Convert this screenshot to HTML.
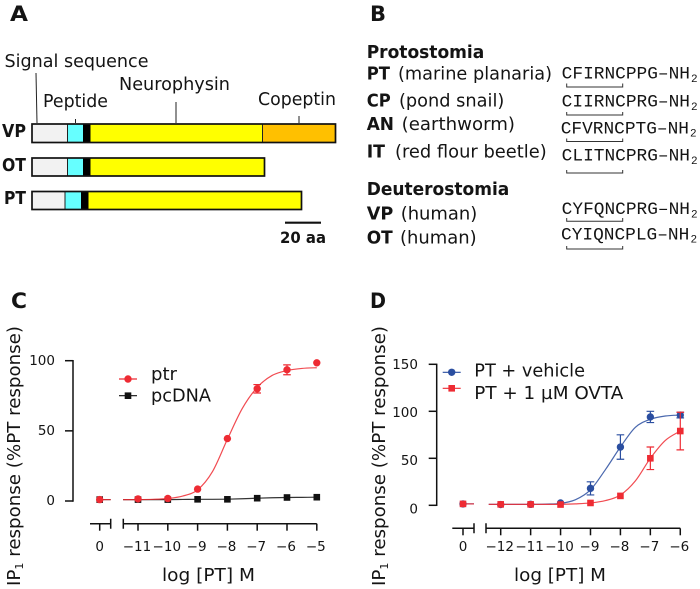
<!DOCTYPE html>
<html lang="en">
<head>
<meta charset="utf-8">
<title>Figure: peptide precursors and receptor response</title>
<style>
html,body{margin:0;padding:0;background:#fff;width:700px;height:589px;overflow:hidden}
svg{display:block}
text{font-family:"DejaVu Sans","Liberation Sans",sans-serif;fill:#141414}
.b{font-weight:bold}
.m{font-family:"Liberation Mono",monospace}
</style>
</head>
<body>
<svg id="fig" xmlns="http://www.w3.org/2000/svg" width="700" height="589" viewBox="0 0 700 589">
<rect width="700" height="589" fill="#fff"/>

<g>
  <text class="b" x="10" y="21" font-size="21" textLength="18" lengthAdjust="spacingAndGlyphs">A</text>
  <text x="4.5" y="67" font-size="18" textLength="144" lengthAdjust="spacingAndGlyphs">Signal sequence</text>
  <text x="119" y="90" font-size="18" textLength="111" lengthAdjust="spacingAndGlyphs">Neurophysin</text>
  <text x="43" y="107" font-size="18" textLength="65" lengthAdjust="spacingAndGlyphs">Peptide</text>
  <text x="258" y="105" font-size="18" textLength="78" lengthAdjust="spacingAndGlyphs">Copeptin</text>
  <g stroke="#222" stroke-width="1" fill="none">
    <path d="M36 73L37 123"/>
    <path d="M75.5 119V123"/>
    <path d="M176 102V123"/>
    <path d="M299 116V123"/>
  </g>
  <text class="b" x="2" y="137" font-size="18" textLength="24" lengthAdjust="spacingAndGlyphs">VP</text>
  <text class="b" x="2" y="171" font-size="18" textLength="24" lengthAdjust="spacingAndGlyphs">OT</text>
  <text class="b" x="4" y="204" font-size="18" textLength="22" lengthAdjust="spacingAndGlyphs">PT</text>

  <g>
    <rect x="32" y="124" width="35.5" height="18.5" fill="#f2f2f2"/>
    <rect x="67.5" y="124" width="15.5" height="18.5" fill="#66ffff"/>
    <rect x="83" y="124" width="7.5" height="18.5" fill="#000"/>
    <rect x="90.5" y="124" width="172" height="18.5" fill="#ffff00"/>
    <rect x="262.5" y="124" width="73" height="18.5" fill="#ffc000"/>
    <path d="M67.5 124V142.5M262.5 124V142.5" stroke="#222" stroke-width="1" fill="none"/>
    <rect x="32" y="124" width="303.5" height="18.5" fill="none" stroke="#111" stroke-width="1.7"/>
  </g>
  <g>
    <rect x="32" y="158" width="35.5" height="18" fill="#f2f2f2"/>
    <rect x="67.5" y="158" width="15.5" height="18" fill="#66ffff"/>
    <rect x="83" y="158" width="7.5" height="18" fill="#000"/>
    <rect x="90.5" y="158" width="174" height="18" fill="#ffff00"/>
    <path d="M67.5 158V176" stroke="#222" stroke-width="1" fill="none"/>
    <rect x="32" y="158" width="232.5" height="18" fill="none" stroke="#111" stroke-width="1.7"/>
  </g>
  <g>
    <rect x="32" y="191.5" width="33" height="18" fill="#f2f2f2"/>
    <rect x="65" y="191.5" width="16" height="18" fill="#66ffff"/>
    <rect x="81" y="191.5" width="7.5" height="18" fill="#000"/>
    <rect x="88.5" y="191.5" width="213" height="18" fill="#ffff00"/>
    <path d="M65 191.5V209.5" stroke="#222" stroke-width="1" fill="none"/>
    <rect x="32" y="191.5" width="269.5" height="18" fill="none" stroke="#111" stroke-width="1.7"/>
  </g>
  <path d="M285 222.7H321" stroke="#111" stroke-width="2.2"/>
  <text class="b" x="280" y="243" font-size="16" textLength="46" lengthAdjust="spacingAndGlyphs">20 aa</text>
</g>

<g>
  <text class="b" x="370" y="21" font-size="21" textLength="16" lengthAdjust="spacingAndGlyphs">B</text>
  <text class="b" x="366.7" y="58" font-size="18" textLength="117.6" lengthAdjust="spacingAndGlyphs">Protostomia</text>
  <text class="b" x="366.7" y="79.5" font-size="18" textLength="23.3" lengthAdjust="spacingAndGlyphs">PT</text>
  <text x="398" y="79.5" font-size="18" textLength="154" lengthAdjust="spacingAndGlyphs">(marine planaria)</text>
  <text class="b" x="366.7" y="106.7" font-size="18" textLength="24" lengthAdjust="spacingAndGlyphs">CP</text>
  <text x="399" y="106.7" font-size="18" textLength="105.3" lengthAdjust="spacingAndGlyphs">(pond snail)</text>
  <text class="b" x="366.7" y="130" font-size="18" textLength="27.3" lengthAdjust="spacingAndGlyphs">AN</text>
  <text x="401.7" y="130" font-size="18" textLength="113.3" lengthAdjust="spacingAndGlyphs">(earthworm)</text>
  <text class="b" x="366.7" y="157.7" font-size="18" textLength="18.3" lengthAdjust="spacingAndGlyphs">IT</text>
  <text x="395" y="157.7" font-size="18" textLength="151.7" lengthAdjust="spacingAndGlyphs">(red flour beetle)</text>
  <text class="b" x="366.7" y="195" font-size="18" textLength="142.6" lengthAdjust="spacingAndGlyphs">Deuterostomia</text>
  <text class="b" x="366.7" y="219.3" font-size="18" textLength="26.6" lengthAdjust="spacingAndGlyphs">VP</text>
  <text x="400.7" y="219.3" font-size="18" textLength="76.6" lengthAdjust="spacingAndGlyphs">(human)</text>
  <text class="b" x="366.7" y="243.3" font-size="18" textLength="26" lengthAdjust="spacingAndGlyphs">OT</text>
  <text x="400" y="243.3" font-size="18" textLength="76.7" lengthAdjust="spacingAndGlyphs">(human)</text>

  <text class="m" x="561.7" y="78.7" font-size="17.8" textLength="128.3" lengthAdjust="spacingAndGlyphs">CFIRNCPPG&#8211;NH</text>
  <text class="m" x="691" y="82" font-size="11">2</text>
  <text class="m" x="561.7" y="106.7" font-size="17.8" textLength="128.3" lengthAdjust="spacingAndGlyphs">CIIRNCPRG&#8211;NH</text>
  <text class="m" x="691" y="110" font-size="11">2</text>
  <text class="m" x="560.7" y="133.3" font-size="17.8" textLength="128.3" lengthAdjust="spacingAndGlyphs">CFVRNCPTG&#8211;NH</text>
  <text class="m" x="690" y="136.6" font-size="11">2</text>
  <text class="m" x="561.7" y="160.7" font-size="17.8" textLength="128.3" lengthAdjust="spacingAndGlyphs">CLITNCPRG&#8211;NH</text>
  <text class="m" x="691" y="164" font-size="11">2</text>
  <text class="m" x="561.7" y="214" font-size="17.8" textLength="128.3" lengthAdjust="spacingAndGlyphs">CYFQNCPRG&#8211;NH</text>
  <text class="m" x="691" y="217.3" font-size="11">2</text>
  <text class="m" x="561" y="239.3" font-size="17.8" textLength="128.3" lengthAdjust="spacingAndGlyphs">CYIQNCPLG&#8211;NH</text>
  <text class="m" x="690.5" y="242.6" font-size="11">2</text>

  <g stroke="#333" stroke-width="1" fill="none">
    <path d="M566.7 83.5V87H622.7V83.5"/>
    <path d="M566.7 112V115H622.7V112"/>
    <path d="M566.7 138.5V141.5H622.7V138.5"/>
    <path d="M566.7 170V173H622.7V170"/>
    <path d="M566.7 218V221.3H622.7V218"/>
    <path d="M566.7 246V249H622.7V246"/>
  </g>
</g>

<g id="panelC">
  <text class="b" x="11" y="308" font-size="21" textLength="16" lengthAdjust="spacingAndGlyphs">C</text>
  <text transform="translate(20,586) rotate(-90)" font-size="18" textLength="260" lengthAdjust="spacingAndGlyphs">IP<tspan dy="3" font-size="11">1</tspan><tspan dy="-3"> response (%PT response)</tspan></text>
  <text x="162" y="581" font-size="18" textLength="93" lengthAdjust="spacingAndGlyphs">log [PT] M</text>
</g>
<g id="panelD">
  <text class="b" x="370" y="308" font-size="21" textLength="16" lengthAdjust="spacingAndGlyphs">D</text>
  <text transform="translate(385,586) rotate(-90)" font-size="18" textLength="260" lengthAdjust="spacingAndGlyphs">IP<tspan dy="3" font-size="11">1</tspan><tspan dy="-3"> response (%PT response)</tspan></text>
  <text x="514" y="581" font-size="18" textLength="92" lengthAdjust="spacingAndGlyphs">log [PT] M</text>
</g>
</svg>

<script>
// Panel C data
var cDoses = [0, -11, -10, -9, -8, -7, -6, -5];
var cPtr = [1, 1.5, 1.8, 8.5, 44.5, 80, 93.5, 98.5];
var cPtrErr = [0.5, 1, 0.8, 1, 1, 3, 3.5, 1];
var cPcdna = [1, 1, 1, 1.2, 1.2, 2, 2.5, 2.7];
var cPcdnaErr = [0.3, 0.3, 0.3, 0.3, 0.3, 0.5, 0.5, 0.5];
var cFitDoses = [-11.5, -11, -10.5, -10, -9.5, -9, -8.5, -8, -7.5, -7, -6.5, -6, -5.5, -5];
var cPtrFit = [1, 1, 1.2, 1.8, 3.5, 8, 21, 44, 66, 81, 89.5, 93, 94.5, 95];
var cPcdnaFit = [1, 1, 1, 1, 1.1, 1.2, 1.2, 1.3, 1.6, 2, 2.3, 2.5, 2.6, 2.7];
var cYTicks = [0, 50, 100];
var cXTicks = [0, -11, -10, -9, -8, -7, -6, -5];

// Panel D data
var dDoses = [0, -12, -11, -10, -9, -8, -7, -6];
var dVehicle = [1.5, 0.8, 1, 2.5, 18, 62, 94, 96];
var dVehicleErr = [0.5, 0.5, 0.5, 1, 7, 13, 6, 3];
var dOvta = [1.5, 1, 1, 0.8, 2.5, 10, 50, 79];
var dOvtaErr = [0.5, 0.5, 0.5, 0.5, 0.8, 1.5, 12, 20];
var dFitDoses = [-12.4, -12, -11.5, -11, -10.5, -10, -9.5, -9, -8.5, -8, -7.5, -7, -6.5, -6];
var dVehicleFit = [1, 1, 1, 1, 1.3, 2, 6, 16.5, 38, 62, 83, 91.5, 95, 96];
var dOvtaFit = [1, 1, 1, 1, 1, 1, 1.5, 2.5, 5, 11, 26, 50, 69, 79];
var dYTicks = [0, 50, 100, 150];
var dXTicks = [0, -12, -11, -10, -9, -8, -7, -6];

var NS = 'http://www.w3.org/2000/svg';

function mk(parent, tag, name, attrs, txt) {
  var el = document.createElementNS(NS, tag);
  
  
  for (var k in attrs) { el.setAttribute(k, attrs[k]); }
  if (txt !== undefined) { el.textContent = txt; }
  parent.appendChild(el);
  return el;
}

function smooth(pts) {
  var d = 'M' + pts[0][0] + ' ' + pts[0][1];
  for (var i = 0; i < pts.length - 1; i++) {
    var p0 = pts[Math.max(i - 1, 0)], p1 = pts[i], p2 = pts[i + 1], p3 = pts[Math.min(i + 2, pts.length - 1)];
    d += 'C' + (p1[0] + (p2[0] - p0[0]) / 6) + ' ' + (p1[1] + (p2[1] - p0[1]) / 6) + ' ' +
         (p2[0] - (p3[0] - p1[0]) / 6) + ' ' + (p2[1] - (p3[1] - p1[1]) / 6) + ' ' + p2[0] + ' ' + p2[1];
  }
  return d;
}

function marker(g, shape, x, y, color, name) {
  if (shape === 'circle') {
    mk(g, 'circle', name, {cx: x, cy: y, r: 3.7, fill: color});
  } else {
    mk(g, 'rect', name, {x: x - 3.3, y: y - 3.3, width: 6.6, height: 6.6, fill: color});
  }
}

function drawSeries(root, opt, xf, yf) {
  var g = mk(root, 'g', opt.name + '-series', {});
  var pts = opt.fitX.map(function (v, i) { return [xf(v), yf(opt.fit[i])]; });
  mk(g, 'path', opt.name + '-fit-curve', {d: smooth(pts), fill: 'none', stroke: opt.color, 'stroke-width': 1.2, 'stroke-opacity': 0.85});
  var cx = xf(0), cy = yf(opt.vals[opt.doses.indexOf(0)]);
  mk(g, 'path', opt.name + '-control-line', {d: 'M' + cx + ' ' + cy + 'H' + (cx + 11), stroke: opt.color, 'stroke-width': 1.2, 'stroke-opacity': 0.85, fill: 'none'});
  opt.doses.forEach(function (d, i) {
    var x = xf(d), y = yf(opt.vals[i]), e = opt.errs[i];
    if (e >= 2) {
      mk(g, 'path', opt.name + '-error-bar', {
        d: 'M' + x + ' ' + yf(opt.vals[i] + e) + 'V' + yf(opt.vals[i] - e) +
           'M' + (x - 3.8) + ' ' + yf(opt.vals[i] + e) + 'h7.6M' + (x - 3.8) + ' ' + yf(opt.vals[i] - e) + 'h7.6',
        stroke: opt.color, 'stroke-width': 1.2, fill: 'none'
      });
    }
    marker(g, opt.shape, x, y, opt.color, opt.name + '-point');
  });
}

function drawAxes(root, o) {
  var g = mk(root, 'g', o.name + '-axes', {});
  var top = o.yf(o.yTicks[o.yTicks.length - 1]), bot = o.yf(o.yTicks[0]);
  mk(g, 'path', o.name + '-y-axis', {d: 'M' + o.axisX + ' ' + (top - 0.7) + 'V' + (bot + 0.7), stroke: '#111', 'stroke-width': 1.5, fill: 'none'});
  o.yTicks.forEach(function (t) {
    var y = o.yf(t);
    mk(g, 'path', o.name + '-y-tick', {d: 'M' + (o.axisX - 8) + ' ' + y + 'H' + o.axisX, stroke: '#111', 'stroke-width': 1.5});
    mk(g, 'text', o.name + '-y-tick-label', {x: o.labelX, y: y + 4.8 + o.labelShift(t), 'font-size': 13.5, 'text-anchor': 'end'}, String(t));
  });
  var ay = o.axisY;
  mk(g, 'path', o.name + '-x-axis-control', {d: 'M' + o.leftSeg[0] + ' ' + ay + 'H' + o.leftSeg[1] + 'M' + o.leftSeg[1] + ' ' + (ay - 5) + 'V' + (ay + 5), stroke: '#111', 'stroke-width': 1.5, fill: 'none'});
  mk(g, 'path', o.name + '-x-axis-dose', {d: 'M' + o.rightSeg[0] + ' ' + (ay - 5) + 'V' + (ay + 5) + 'M' + o.rightSeg[0] + ' ' + ay + 'H' + o.xf(o.xTicks[o.xTicks.length - 1]), stroke: '#111', 'stroke-width': 1.5, fill: 'none'});
  o.xTicks.forEach(function (t) {
    var x = o.xf(t);
    mk(g, 'path', o.name + '-x-tick', {d: 'M' + x + ' ' + ay + 'V' + (ay + 7), stroke: '#111', 'stroke-width': 1.5});
    var s = t < 0 ? '\u2212' + Math.abs(t) : String(t);
    mk(g, 'text', o.name + '-x-tick-label', {x: x - (t < 0 ? 1 : 0), y: 551, 'font-size': 13.5, 'text-anchor': 'middle'}, s);
  });
}

function legendEntry(root, name, x0, x1, y, shape, color, tx, ty, label, len) {
  var g = mk(root, 'g', name, {});
  mk(g, 'path', name + '-line', {d: 'M' + x0 + ' ' + y + 'H' + x1, stroke: color, 'stroke-width': 1.2});
  marker(g, shape, (x0 + x1) / 2, y, color, name + '-marker');
  mk(g, 'text', name + '-label', {x: tx, y: ty, 'font-size': 18, textLength: len, lengthAdjust: 'spacingAndGlyphs'}, label);
}

// Panel C
var cxf = function (v) { return v === 0 ? 99.7 : 138 + (v + 11) * 29.8; };
var cyf = function (v) { return 501 - v * 1.403; };
var rootC = document.getElementById('panelC');
drawAxes(rootC, {name: 'panel-c', xf: cxf, yf: cyf, yTicks: cYTicks, xTicks: cXTicks, axisX: 73, labelX: 55, axisY: 523.7, leftSeg: [90, 110.7], rightSeg: [123.3],
  labelShift: function () { return -0.6; }});
drawSeries(rootC, {name: 'pcdna', doses: cDoses, vals: cPcdna, errs: cPcdnaErr, fitX: cFitDoses, fit: cPcdnaFit, color: '#111111', shape: 'square'}, cxf, cyf);
drawSeries(rootC, {name: 'ptr', doses: cDoses, vals: cPtr, errs: cPtrErr, fitX: cFitDoses, fit: cPtrFit, color: '#ee2b33', shape: 'circle'}, cxf, cyf);
legendEntry(rootC, 'legend-ptr', 119, 137, 379, 'circle', '#ee2b33', 151, 380, 'ptr', 26);
legendEntry(rootC, 'legend-pcdna', 119, 137, 395.7, 'square', '#111111', 151, 401.7, 'pcDNA', 60);

// Panel D
var dxf = function (v) { return v === 0 ? 463 : 500.7 + (v + 12) * 29.93; };
var dyf = function (v) { return 505.3 - v * 0.94; };
var rootD = document.getElementById('panelD');
drawAxes(rootD, {name: 'panel-d', xf: dxf, yf: dyf, yTicks: dYTicks, xTicks: dXTicks, axisX: 436.7, labelX: 418, axisY: 528.3, leftSeg: [452.3, 474], rightSeg: [486],
  labelShift: function (t) { return (150 - t) / 150 * 3.6 - 0.3; }});
drawSeries(rootD, {name: 'pt-vehicle', doses: dDoses, vals: dVehicle, errs: dVehicleErr, fitX: dFitDoses, fit: dVehicleFit, color: '#2a4ea0', shape: 'circle'}, dxf, dyf);
drawSeries(rootD, {name: 'pt-ovta', doses: dDoses, vals: dOvta, errs: dOvtaErr, fitX: dFitDoses, fit: dOvtaFit, color: '#ee2b33', shape: 'square'}, dxf, dyf);
legendEntry(rootD, 'legend-pt-vehicle', 442.7, 460.7, 372.3, 'circle', '#2a4ea0', 474.3, 376.7, 'PT + vehicle', 110.7);
legendEntry(rootD, 'legend-pt-ovta', 442.7, 460.7, 388.3, 'square', '#ee2b33', 474.3, 399, 'PT + 1 \u00b5M OVTA', 149);
</script>
</body>
</html>
